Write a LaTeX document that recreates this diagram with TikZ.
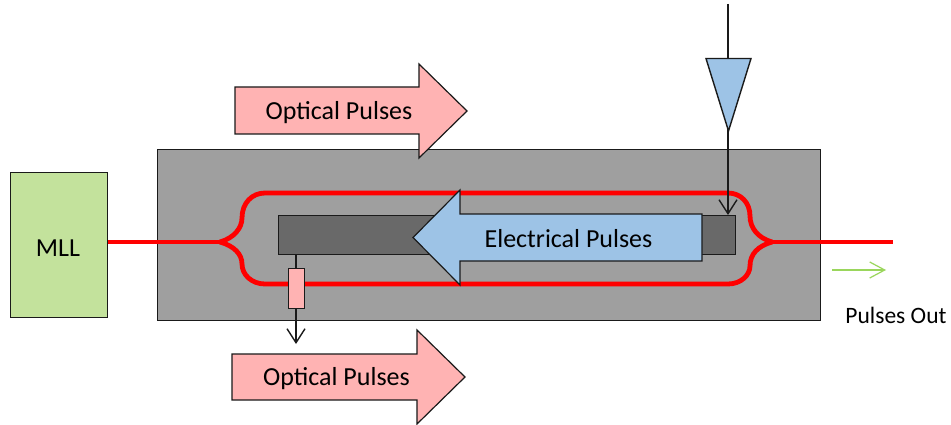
\documentclass[tikz,border=0pt]{standalone}
\usepackage{fontspec}
\setmainfont{Carlito}
\usetikzlibrary{arrows.meta}
\definecolor{mllgreen}{HTML}{C3E29C}
\definecolor{chipgrey}{HTML}{9F9F9F}
\definecolor{electrode}{HTML}{696969}
\definecolor{pinkfill}{HTML}{FFB3B3}
\definecolor{bluefill}{HTML}{9DC3E6}
\definecolor{outgreen}{HTML}{9AD65C}
\definecolor{edge}{HTML}{1A1A1A}
\tikzset{
  x=1pt,y=-1pt,
  outlined/.style={draw=edge,line width=1.4pt,line join=miter},
  boxnode/.style={outlined,inner sep=0pt,anchor=north west},
  arrowshape/.style={outlined,line width=1.2pt},
  label/.style={inner sep=0pt,text=black,font=\fontsize{26}{30}\selectfont},
  waveguide/.style={draw=red,line width=4.8pt,line cap=butt},
  feed/.style={draw=red,line width=4pt,line cap=butt},
  wire/.style={draw=edge,line width=1.4pt},
  barb/.style={-{Straight Barb[length=14pt,width=18pt,line width=1.4pt]}},
}
\begin{document}
\begin{tikzpicture}
\useasboundingbox (0,0) rectangle (951,425);
\fill[white] (0,0) rectangle (951,425);
% chip and MLL
\node[boxnode,fill=chipgrey,minimum width=663pt,minimum height=171pt] (chip) at (156.5,148.7) {};
\node[boxnode,fill=mllgreen,minimum width=97pt,minimum height=145pt] (mll) at (9.5,171.7) {};
\node[label] (mlltext) at (58,248) {MLL};
% electrode
\node[boxnode,fill=electrode,minimum width=457pt,minimum height=39pt] (electrode) at (277.7,214.7) {};
% waveguides
\coordinate (splitL) at (220,242);
\coordinate (splitR) at (772,242);
\coordinate (outEnd) at (893,242);
\draw[feed] (mll.east |- splitL) -- (splitL);
\draw[waveguide] (splitL) .. controls (234,238) and (242,228) .. (242,218)
  .. controls (242,203) and (252,193) .. (265,193) -- (728,193)
  .. controls (741,193) and (750,203) .. (750,216)
  .. controls (750,228) and (758,238) .. (772,242);
\draw[waveguide] (splitL) .. controls (234,246) and (242,254) .. (242,264)
  .. controls (242,275) and (252,284) .. (265,284) -- (728,284)
  .. controls (741,284) and (750,275) .. (750,266)
  .. controls (750,254) and (758,246) .. (772,242);
\draw[feed] (splitR) -- (outEnd);
% blue arrow
\draw[arrowshape,fill=bluefill] (702,214) -- (460,214) -- (460,190) -- (413,237.5) -- (460,285) -- (460,261) -- (702,261) -- cycle;
\node[label] (eltext) at (568.5,238.5) {Electrical Pulses};
% pink tap
\coordinate (tapEnd) at (296,344);
\draw[wire,barb] (296,254) -- (tapEnd);
\node[boxnode,fill=pinkfill,minimum width=16pt,minimum height=40pt] (tap) at (288,268) {};
% driver
\coordinate (driveTop) at (728,4);
\coordinate (driveEnd) at (728,215);
\draw[wire,barb] (driveTop) -- (driveEnd);
\draw[outlined,fill=bluefill] (706,58.5) -- (751,58.5) -- (728.5,131) -- cycle;
% optical pulses
\draw[arrowshape,fill=pinkfill] (235,87) -- (419,87) -- (419,64) -- (467,111) -- (419,158) -- (419,134) -- (235,134) -- cycle;
\node[label] (optop) at (339,112.5) {Optical Pulses};
\draw[arrowshape,fill=pinkfill] (232,354) -- (417,354) -- (417,330) -- (465,377) -- (417,424) -- (417,400) -- (232,400) -- cycle;
\node[label] (opbot) at (336.5,378.5) {Optical Pulses};
% output
\coordinate (gA) at (832,270);
\coordinate (gB) at (886,270);
\draw[draw=outgreen,line width=1.2pt,-{Straight Barb[length=15pt,width=16pt,line width=1.2pt]}] (gA) -- (gB);
\node[inner sep=0pt,font=\fontsize{23.5}{26}\selectfont] (out) at (896,315.5) {Pulses Out};
\end{tikzpicture}
\end{document}
